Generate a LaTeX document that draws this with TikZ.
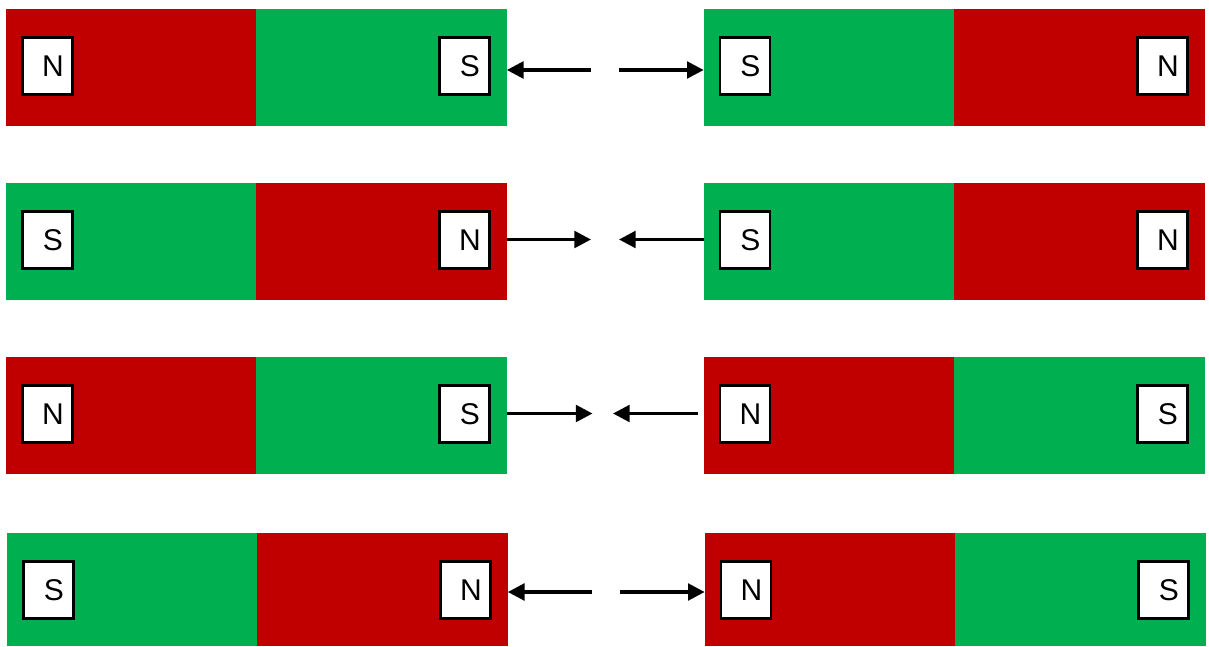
\documentclass[tikz,border=0pt]{standalone}
\usepackage{fontspec}
\setmainfont{Liberation Sans}
\usetikzlibrary{arrows.meta}
\definecolor{magred}{HTML}{C00000}
\definecolor{maggreen}{HTML}{00B050}
\tikzset{
  half/.style={minimum width=188pt, minimum height=87.75pt, inner sep=0pt, outer sep=0pt, draw=none},
  northhalf/.style={half, fill=magred},
  southhalf/.style={half, fill=maggreen},
  lowhalf/.style={minimum height=84.75pt},
  tag/.style={draw=black, line width=1.6pt, fill=white, minimum width=37.5pt,
    minimum height=42.75pt, inner sep=0pt, outer sep=0pt,
    font=\fontsize{22.5}{22.5}\selectfont},
  force/.style={line width=2.5pt, -{Triangle[length=12.5pt,width=12.5pt]}},
}
\newcommand{\poletext}[1]{\kern8pt #1}
\begin{document}
\begin{tikzpicture}[x=0.75pt, y=-0.75pt]
  \useasboundingbox (0,0) rectangle (1209,646);

  % ---- row 1: N S   <-  ->   S N
  \node[northhalf] (L1a) at (131,67.5) {};
  \node[southhalf] (L1b) at (381.5,67.5) {};
  \node[southhalf] (R1a) at (829,67.5) {};
  \node[northhalf] (R1b) at (1079.5,67.5) {};
  \node[tag] (t1a) at (47.5,66) {\poletext{N}};
  \node[tag] (t1b) at (464.5,66) {\poletext{S}};
  \node[tag] (t1c) at (745,66) {\poletext{S}};
  \node[tag] (t1d) at (1162.5,66) {\poletext{N}};
  \coordinate (f1a) at (591,70);
  \coordinate (f1b) at (619,70);
  \draw[force] (f1a) -- (f1a -| L1b.east);
  \draw[force] (f1b) -- (f1b -| R1a.west);

  % ---- row 2: S N   ->  <-   S N
  \node[southhalf] (L2a) at (131,241.5) {};
  \node[northhalf] (L2b) at (381.5,241.5) {};
  \node[southhalf] (R2a) at (829,241.5) {};
  \node[northhalf] (R2b) at (1079.5,241.5) {};
  \node[tag] (t2a) at (47.5,240) {\poletext{S}};
  \node[tag] (t2b) at (464.5,240) {\poletext{N}};
  \node[tag] (t2c) at (745,240) {\poletext{S}};
  \node[tag] (t2d) at (1162.5,240) {\poletext{N}};
  \coordinate (f2a) at (591,239.5);
  \coordinate (f2b) at (619,239.5);
  \draw[force] (f2a -| L2b.east) -- (f2a);
  \draw[force] (f2b -| R2a.west) -- (f2b);

  % ---- row 3: N S   ->  <-   N S
  \node[northhalf] (L3a) at (131,415.5) {};
  \node[southhalf] (L3b) at (381.5,415.5) {};
  \node[northhalf] (R3a) at (829,415.5) {};
  \node[southhalf] (R3b) at (1079.5,415.5) {};
  \node[tag] (t3a) at (47.5,414) {\poletext{N}};
  \node[tag] (t3b) at (464.5,414) {\poletext{S}};
  \node[tag] (t3c) at (745,414) {\poletext{N}};
  \node[tag] (t3d) at (1162.5,414) {\poletext{S}};
  \coordinate (f3a) at (592.5,413.5);
  \coordinate (f3b) at (613,413.5);
  \coordinate (f3c) at (698,413.5);
  \draw[force] (f3a -| L3b.east) -- (f3a);
  \draw[force] (f3c) -- (f3b);

  % ---- row 4: S N   <-  ->   N S
  \node[southhalf, lowhalf] (L4a) at (132,589.5) {};
  \node[northhalf, lowhalf] (L4b) at (382.5,589.5) {};
  \node[northhalf, lowhalf] (R4a) at (830,589.5) {};
  \node[southhalf, lowhalf] (R4b) at (1080.5,589.5) {};
  \node[tag] (t4a) at (48.5,590) {\poletext{S}};
  \node[tag] (t4b) at (465.5,590) {\poletext{N}};
  \node[tag] (t4c) at (746,590) {\poletext{N}};
  \node[tag] (t4d) at (1163.5,590) {\poletext{S}};
  \coordinate (f4a) at (592,592);
  \coordinate (f4b) at (620,592);
  \draw[force] (f4a) -- (f4a -| L4b.east);
  \draw[force] (f4b) -- (f4b -| R4a.west);
\end{tikzpicture}
\end{document}
